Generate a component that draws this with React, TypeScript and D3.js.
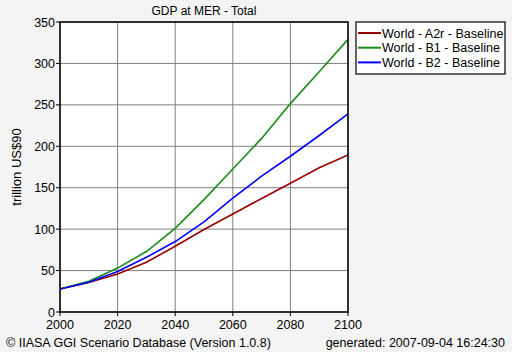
import React from "react";
import * as d3 from "d3";

const years = [2000, 2010, 2020, 2030, 2040, 2050, 2060, 2070, 2080, 2090, 2100];
const a2r = [27.8, 35.5, 45.9, 60, 79.3, 99.5, 118.3, 137, 155.3, 174, 189.5];
const b1 = [27.8, 37, 53, 73, 101, 135.6, 172.5, 209.5, 251.5, 290, 329];
const b2 = [27.8, 36, 49, 66, 85, 108.7, 137.5, 164, 188, 213, 239];
const yTicks = [0, 50, 100, 150, 200, 250, 300, 350];
const xTicks = [2000, 2020, 2040, 2060, 2080, 2100];

const series = [
  { name: "World - A2r - Baseline", values: a2r, color: "#990000" },
  { name: "World - B1 - Baseline", values: b1, color: "#1a8a1a" },
  { name: "World - B2 - Baseline", values: b2, color: "#0000ff" },
];

const font = "Arial, 'Liberation Sans', sans-serif";

export default function App() {
  const margin = { top: 22, left: 60 };
  const width = 288,
    height = 290;

  const x = d3.scaleLinear().domain([2000, 2100]).range([0, width]);
  const y = d3.scaleLinear().domain([0, 350]).range([height, 0]);

  const line = d3
    .line<number>()
    .x((d, i) => x(years[i]))
    .y((d) => y(d));

  return (
    <svg
      width={512}
      height={352}
      style={{ position: "absolute", left: 0, top: 0, background: "#f4f4f4" }}
      fontFamily={font}
      fontSize={12}
    >
      <text x={margin.left + width / 2} y={15} textAnchor="middle" fill="#000">
        GDP at MER - Total
      </text>
      <text
        transform={`translate(21,${margin.top + height / 2}) rotate(-90)`}
        textAnchor="middle"
        fontSize={13}
      >
        trillion US$90
      </text>

      <g transform={`translate(${margin.left},${margin.top})`}>
        <rect width={width} height={height} fill="#fff" />
        {yTicks.map((t) => (
          <g key={"y" + t}>
            <line x1={0} x2={width} y1={y(t)} y2={y(t)} stroke="#808080" strokeWidth={1} />
            <line x1={-4} x2={0} y1={y(t)} y2={y(t)} stroke="#000" />
            <text x={-5} y={y(t)} dy="0.36em" textAnchor="end" fontSize={12.5}>
              {t}
            </text>
          </g>
        ))}
        {xTicks.map((t) => (
          <g key={"x" + t}>
            <line x1={x(t)} x2={x(t)} y1={0} y2={height} stroke="#808080" strokeWidth={1} />
            <line x1={x(t)} x2={x(t)} y1={height} y2={height + 4} stroke="#000" />
            <text x={x(t)} y={height + 17} textAnchor="middle" fontSize={12.5}>
              {t}
            </text>
          </g>
        ))}
        {series.map((s) => (
          <path
            key={s.name}
            d={line(s.values) || ""}
            fill="none"
            stroke={s.color}
            strokeWidth={1.6}
          />
        ))}
        <rect width={width} height={height} fill="none" stroke="#000" strokeWidth={1.5} />
      </g>

      <g transform="translate(356,22)">
        <rect width={149} height={52} fill="#fff" stroke="#000" strokeWidth={1.2} />
        {series.map((s, i) => (
          <g key={s.name} transform={`translate(0,${11 + i * 14.7})`}>
            <line x1={2} x2={25} y1={0} y2={0} stroke={s.color} strokeWidth={2} />
            <text x={26} y={0} dy="0.36em" fontSize={12.5}>
              {s.name}
            </text>
          </g>
        ))}
      </g>

      <text x={6} y={346.5} fontSize={12.5}>
        © IIASA GGI Scenario Database (Version 1.0.8)
      </text>
      <text x={505} y={346.5} textAnchor="end" fontSize={12.5}>
        generated: 2007-09-04 16:24:30
      </text>
    </svg>
  );
}
